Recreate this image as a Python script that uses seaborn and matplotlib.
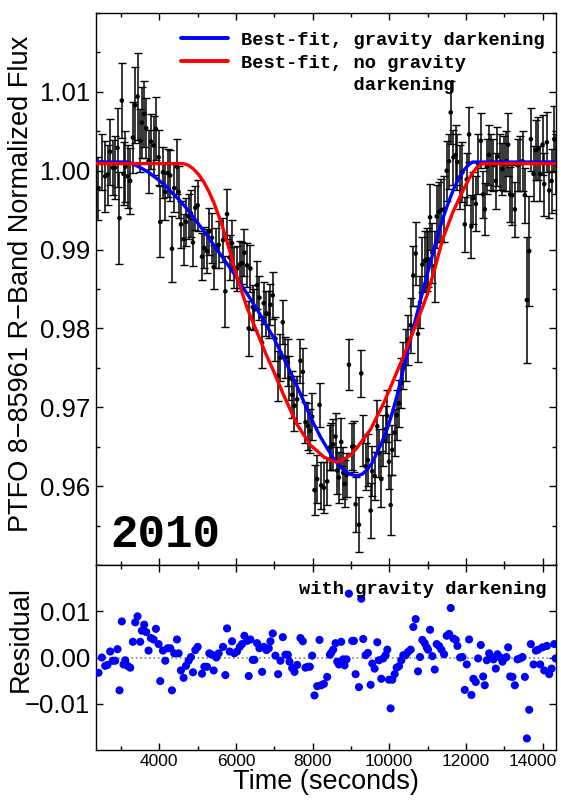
import numpy as np
import pandas as pd
import seaborn as sns
import matplotlib
matplotlib.use("Agg")
import matplotlib.pyplot as plt
from matplotlib.ticker import MultipleLocator, FixedLocator, FuncFormatter
from matplotlib.lines import Line2D
from matplotlib.transforms import ScaledTranslation

# ---------------- data ----------------
time_s = [2415, 2502, 2589, 2650, 2720, 2789, 2850, 2911, 2963, 3024,
          3068, 3112, 3173, 3242, 3312, 3373, 3434, 3504, 3547, 3608,
          3660, 3721, 3782, 3852, 3913, 3983, 4026, 4096, 4157, 4218,
          4287, 4331, 4392, 4462, 4505, 4566, 4636, 4697, 4766, 4827,
          4880, 4941, 5002, 5115, 5176, 5246, 5306, 5376, 5420, 5489,
          5550, 5664, 5725, 5768, 5838, 5899, 5960, 6029, 6099, 6160,
          6221, 6291, 6334, 6378, 6439, 6482, 6552, 6613, 6683, 6726,
          6796, 6857, 6900, 6961, 7031, 7101, 7162, 7223, 7292, 7353,
          7397, 7467, 7528, 7598, 7684, 7745, 7815, 7876, 7928, 7989,
          8050, 8120, 8181, 8224, 8294, 8381, 8451, 8486, 8538, 8599,
          8643, 8686, 8747, 8799, 8834, 8886, 8947, 9034, 9078, 9122,
          9209, 9270, 9322, 9383, 9444, 9514, 9557, 9618, 9688, 9731,
          9792, 9844, 9905, 9949, 9993, 10036, 10080, 10141, 10193, 10254,
          10315, 10367, 10428, 10489, 10559, 10628, 10689, 10750, 10803, 10864,
          10925, 10977, 11012, 11064, 11125, 11186, 11238, 11299, 11360, 11430,
          11499, 11560, 11604, 11674, 11735, 11778, 11848, 11909, 11970, 12022,
          12083, 12144, 12196, 12257, 12318, 12388, 12449, 12492, 12545, 12606,
          12667, 12719, 12780, 12823, 12893, 12954, 12998, 13058, 13102, 13154,
          13215, 13276, 13346, 13416, 13477, 13538, 13590, 13651, 13694, 13764,
          13825, 13886, 13938, 13999, 14043, 14112, 14173, 14234, 14304, 14340]

flux = [0.9978, 1.0011, 0.9993, 0.9995, 1.0024, 1.0004, 1.0004, 1.0029, 0.9940, 1.0089,
        0.9996, 1.0005, 0.9993, 0.9987, 1.0042, 1.0083, 1.0094, 1.0038, 1.0061, 1.0072,
        1.0054, 1.0012, 1.0037, 1.0032, 1.0053, 1.0017, 0.9935, 0.9998, 0.9973, 0.9997,
        0.9994, 0.9901, 0.9978, 1.0005, 0.9973, 0.9932, 0.9913, 0.9935, 0.9942, 0.9946,
        0.9909, 0.9953, 0.9956, 0.9891, 0.9902, 0.9898, 0.9923, 0.9915, 0.9878, 0.9902,
        0.9906, 0.9912, 0.9847, 0.9945, 0.9890, 0.9908, 0.9877, 0.9876, 0.9881, 0.9883,
        0.9896, 0.9880, 0.9800, 0.9876, 0.9827, 0.9824, 0.9855, 0.9839, 0.9782, 0.9832,
        0.9819, 0.9818, 0.9830, 0.9842, 0.9787, 0.9740, 0.9763, 0.9808, 0.9763, 0.9757,
        0.9737, 0.9716, 0.9702, 0.9710, 0.9759, 0.9745, 0.9681, 0.9676, 0.9670, 0.9688,
        0.9595, 0.9609, 0.9703, 0.9601, 0.9598, 0.9606, 0.9649, 0.9650, 0.9653, 0.9663,
        0.9620, 0.9611, 0.9656, 0.9617, 0.9603, 0.9614, 0.9754, 0.9650, 0.9650, 0.9577,
        0.9551, 0.9743, 0.9658, 0.9625, 0.9633, 0.9569, 0.9619, 0.9613, 0.9676, 0.9642,
        0.9609, 0.9658, 0.9672, 0.9689, 0.9631, 0.9576, 0.9646, 0.9668, 0.9690, 0.9705,
        0.9731, 0.9753, 0.9766, 0.9785, 0.9804, 0.9867, 0.9895, 0.9793, 0.9833, 0.9881,
        0.9886, 0.9887, 0.9888, 0.9941, 0.9896, 0.9879, 0.9942, 0.9948, 0.9950, 0.9951,
        1.0000, 1.0012, 1.0074, 1.0017, 1.0020, 1.0011, 0.9992, 0.9998, 0.9932, 0.9989,
        1.0046, 0.9929, 0.9965, 0.9958, 1.0009, 1.0038, 0.9970, 0.9951, 1.0005, 1.0020,
        1.0011, 1.0007, 0.9987, 1.0018, 1.0011, 1.0002, 1.0009, 1.0012, 1.0033, 0.9970,
        0.9969, 0.9951, 1.0007, 1.0009, 1.0012, 0.9969, 0.9836, 0.9898, 1.0040, 0.9996,
        1.0026, 1.0028, 0.9996, 1.0033, 0.9983, 1.0036, 0.9975, 0.9987, 1.0040, 1.0009]

flux_err = [0.0040, 0.0035, 0.0045, 0.0038, 0.0042, 0.0035, 0.0040, 0.0050, 0.0058, 0.0048,
            0.0040, 0.0045, 0.0040, 0.0042, 0.0045, 0.0048, 0.0055, 0.0040, 0.0045, 0.0042,
            0.0038, 0.0040, 0.0035, 0.0038, 0.0040, 0.0035, 0.0045, 0.0032, 0.0035, 0.0030,
            0.0032, 0.0042, 0.0030, 0.0035, 0.0033, 0.0030, 0.0032, 0.0030, 0.0028, 0.0030,
            0.0030, 0.0028, 0.0032, 0.0030, 0.0026, 0.0028, 0.0030, 0.0032, 0.0028, 0.0025,
            0.0030, 0.0028, 0.0045, 0.0032, 0.0028, 0.0030, 0.0026, 0.0028, 0.0030, 0.0027,
            0.0030, 0.0028, 0.0035, 0.0030, 0.0028, 0.0026, 0.0030, 0.0028, 0.0032, 0.0027,
            0.0028, 0.0030, 0.0026, 0.0030, 0.0028, 0.0032, 0.0030, 0.0028, 0.0026, 0.0030,
            0.0028, 0.0030, 0.0032, 0.0030, 0.0028, 0.0030, 0.0026, 0.0030, 0.0028, 0.0030,
            0.0032, 0.0030, 0.0028, 0.0030, 0.0032, 0.0030, 0.0028, 0.0030, 0.0032, 0.0030,
            0.0030, 0.0032, 0.0030, 0.0033, 0.0030, 0.0028, 0.0032, 0.0030, 0.0032, 0.0035,
            0.0035, 0.0030, 0.0032, 0.0030, 0.0033, 0.0035, 0.0032, 0.0030, 0.0033, 0.0030,
            0.0035, 0.0032, 0.0030, 0.0033, 0.0035, 0.0038, 0.0032, 0.0030, 0.0032, 0.0030,
            0.0032, 0.0030, 0.0033, 0.0032, 0.0035, 0.0038, 0.0040, 0.0035, 0.0033, 0.0035,
            0.0038, 0.0040, 0.0035, 0.0042, 0.0038, 0.0045, 0.0040, 0.0038, 0.0040, 0.0042,
            0.0038, 0.0035, 0.0040, 0.0035, 0.0038, 0.0035, 0.0040, 0.0038, 0.0035, 0.0033,
            0.0035, 0.0040, 0.0033, 0.0035, 0.0038, 0.0035, 0.0030, 0.0033, 0.0035, 0.0038,
            0.0035, 0.0033, 0.0035, 0.0038, 0.0035, 0.0033, 0.0035, 0.0038, 0.0040, 0.0035,
            0.0038, 0.0035, 0.0033, 0.0035, 0.0038, 0.0035, 0.0080, 0.0070, 0.0040, 0.0035,
            0.0038, 0.0040, 0.0035, 0.0038, 0.0040, 0.0038, 0.0035, 0.0040, 0.0042, 0.0038]

residual = [-0.0033, 0.0000, -0.0018, -0.0016, 0.0013, -0.0007, -0.0007, 0.0018, -0.0071, 0.0078,
            -0.0015, -0.0006, -0.0018, -0.0022, 0.0034, 0.0076, 0.0089, 0.0034, 0.0058, 0.0071,
            0.0055, 0.0015, 0.0042, 0.0039, 0.0062, 0.0029, -0.0051, 0.0015, -0.0007, 0.0020,
            0.0020, -0.0071, 0.0009, 0.0039, 0.0009, -0.0028, -0.0044, -0.0018, -0.0007, 0.0001,
            -0.0032, 0.0016, 0.0023, -0.0035, -0.0020, -0.0020, 0.0009, 0.0006, -0.0028, 0.0000,
            0.0009, 0.0023, -0.0038, 0.0063, 0.0013, 0.0035, 0.0009, 0.0013, 0.0023, 0.0029,
            0.0047, 0.0036, -0.0040, 0.0039, -0.0005, -0.0005, 0.0031, 0.0020, -0.0031, 0.0023,
            0.0016, 0.0020, 0.0035, 0.0052, 0.0004, -0.0036, -0.0007, 0.0044, 0.0006, 0.0006,
            -0.0009, -0.0023, -0.0031, -0.0016, 0.0042, 0.0035, -0.0022, -0.0020, -0.0020, 0.0004,
            -0.0082, -0.0062, 0.0038, -0.0060, -0.0057, -0.0042, 0.0006, 0.0010, 0.0017, 0.0031,
            -0.0009, -0.0015, 0.0034, -0.0004, -0.0017, -0.0004, 0.0138, 0.0036, 0.0036, -0.0036,
            -0.0064, 0.0127, 0.0040, 0.0005, 0.0010, -0.0059, -0.0013, -0.0024, 0.0033, -0.0006,
            -0.0046, -0.0002, 0.0005, 0.0017, -0.0048, -0.0110, -0.0048, -0.0036, -0.0022, -0.0019,
            -0.0006, 0.0005, 0.0005, 0.0012, 0.0017, 0.0066, 0.0083, -0.0030, 0.0001, 0.0038,
            0.0031, 0.0022, 0.0017, 0.0060, 0.0003, -0.0026, 0.0029, 0.0025, 0.0017, 0.0007,
            0.0047, 0.0051, 0.0107, 0.0041, 0.0038, 0.0025, 0.0000, 0.0001, -0.0070, -0.0015,
            0.0039, -0.0081, -0.0046, -0.0053, -0.0002, 0.0027, -0.0041, -0.0060, -0.0006, 0.0009,
            0.0000, -0.0004, -0.0024, 0.0007, 0.0000, -0.0009, -0.0002, 0.0001, 0.0022, -0.0041,
            -0.0042, -0.0060, -0.0004, -0.0002, 0.0001, -0.0042, -0.0175, -0.0113, 0.0029, -0.0015,
            0.0015, 0.0017, -0.0015, 0.0022, -0.0028, 0.0025, -0.0036, -0.0024, 0.0029, -0.0002]

gd_time = [2350, 3150, 3300, 3504, 3720, 3939, 4160, 4375, 4600, 4810,
           5030, 5246, 5460, 5681, 5900, 6117, 6330, 6552, 6770, 6987,
           7249, 7470, 7684, 7860, 8032, 8210, 8381, 8560, 8729, 8870,
           8991, 9150, 9290, 9426, 9560, 9687, 9820, 9949, 10080, 10210,
           10400, 10646, 10907, 11168, 11300, 11430, 11560, 11691, 11820, 11952,
           12060, 12170, 14350]
gd_flux = [1.0011, 1.0011, 1.0009, 1.0004, 0.9998, 0.9990, 0.9981, 0.9970, 0.9959, 0.9946,
           0.9932, 0.9918, 0.9903, 0.9888, 0.9873, 0.9857, 0.9841, 0.9824, 0.9806, 0.9788,
           0.9762, 0.9740, 0.9717, 0.9697, 0.9679, 0.9662, 0.9648, 0.9634, 0.9624, 0.9618,
           0.9615, 0.9613, 0.9615, 0.9621, 0.9630, 0.9643, 0.9657, 0.9673, 0.9693, 0.9716,
           0.9755, 0.9804, 0.9853, 0.9901, 0.9924, 0.9944, 0.9962, 0.9978, 0.9991, 1.0001,
           1.0007, 1.0011, 1.0011]

nogd_time = [2350, 4630, 4760, 4897, 5030, 5158, 5290, 5420, 5637, 5812,
             6029, 6291, 6552, 6770, 6990, 7249, 7597, 7945, 8294, 8500,
             8650, 8816, 9000, 9165, 9513, 9862, 10123, 10384, 10600, 10800,
             10994, 11212, 11386, 11647, 11865, 12083, 12200, 12301, 12400, 12475,
             14350]
nogd_flux = [1.0009, 1.0009, 1.0007, 1.0002, 0.9995, 0.9986, 0.9974, 0.9960, 0.9931, 0.9903,
             0.9865, 0.9826, 0.9795, 0.9769, 0.9745, 0.9715, 0.9678, 0.9652, 0.9637, 0.9632,
             0.9631, 0.9634, 0.9640, 0.9649, 0.9672, 0.9706, 0.9736, 0.9766, 0.9793, 0.9818,
             0.9843, 0.9880, 0.9912, 0.9946, 0.9969, 0.9990, 0.9999, 1.0005, 1.0008, 1.0009,
             1.0009]

flux_ticks = [0.96, 0.97, 0.98, 0.99, 1.00, 1.01]
resid_ticks = [-0.01, 0.00, 0.01]
time_ticks = [4000, 6000, 8000, 10000, 12000, 14000]

legend_labels = ["Best-fit, gravity darkening", "Best-fit, no gravity", " " * 10 + "darkening"]
year_label = "2010"
resid_note = "with gravity darkening"
flux_ylabel = "PTFO 8\u221285961 R\u2212Band Normalized Flux"
resid_ylabel = "Residual"
x_label = "Time (seconds)"

# ---------------- styling ----------------
sns.set_style("ticks")
plt.rcParams["font.family"] = ["Liberation Sans", "DejaVu Sans"]
plt.rcParams["axes.linewidth"] = 1.0
for key in ("text.color", "axes.labelcolor", "xtick.color", "ytick.color", "axes.edgecolor"):
    plt.rcParams[key] = "black"

df = pd.DataFrame({"t": time_s, "f": flux, "e": flux_err, "r": residual})
gd = pd.DataFrame({"t": gd_time, "f": gd_flux})
nogd = pd.DataFrame({"t": nogd_time, "f": nogd_flux})

fig = plt.figure(figsize=(5.61, 8.0), dpi=100)
ax1 = fig.add_axes([96 / 561, 235 / 800, 460 / 561, 552 / 800])
ax2 = fig.add_axes([96 / 561, 50 / 800, 460 / 561, 185 / 800])

xlim = (2350, 14350)

# ---- top panel ----
ax1.errorbar(df["t"], df["f"], yerr=df["e"], fmt="none", ecolor="black",
             elinewidth=1.1, capsize=2.8, capthick=1.0, zorder=2)
sns.scatterplot(data=df, x="t", y="f", ax=ax1, color="black", s=11,
                edgecolor="none", zorder=3, legend=False)
sns.lineplot(data=gd, x="t", y="f", ax=ax1, color="#0000ff", lw=2.4,
             sort=False, estimator=None, zorder=4)
sns.lineplot(data=nogd, x="t", y="f", ax=ax1, color="#ff0000", lw=2.4,
             sort=False, estimator=None, zorder=5)
ax1.set_xlim(*xlim)
ax1.set_ylim(0.950, 1.020)
ax1.xaxis.set_major_locator(FixedLocator(time_ticks))
ax1.xaxis.set_minor_locator(MultipleLocator(1000))
ax1.yaxis.set_major_locator(FixedLocator(flux_ticks))
ax1.yaxis.set_minor_locator(MultipleLocator(0.005))
ax1.yaxis.set_major_formatter(FuncFormatter(lambda v, p: f"{v:.2f}"))
ax1.tick_params(axis="x", labelbottom=False)
ax1.set_xlabel("")
ax1.set_ylabel(flux_ylabel, fontsize=19.5)
ax1.yaxis.set_label_coords(-0.135, 0.51)

handles = [Line2D([], [], color="#0000ff", lw=2.8),
           Line2D([], [], color="#ff0000", lw=2.8),
           Line2D([], [], color="none")]
ax1.legend(handles, legend_labels, loc="upper left", bbox_to_anchor=(0.184, 0.966),
           frameon=False, borderpad=0, borderaxespad=0, handlelength=2.5,
           handletextpad=0.7, labelspacing=0.3,
           prop={"family": "Liberation Mono", "weight": "bold", "size": 13.5})
ax1.text(0.03, 0.033, year_label, transform=ax1.transAxes, ha="left", va="baseline",
         fontsize=33, fontweight="bold", family="Liberation Mono", color="black")

# ---- bottom panel ----
ax2.axhline(0, color="gray", ls=":", lw=1.2, zorder=1)
sns.scatterplot(data=df, x="t", y="r", ax=ax2, color="#0000ff", s=34,
                edgecolor="none", zorder=3, legend=False)
ax2.set_xlim(*xlim)
ax2.set_ylim(-0.020, 0.020)
ax2.xaxis.set_major_locator(FixedLocator(time_ticks))
ax2.xaxis.set_minor_locator(MultipleLocator(1000))
ax2.yaxis.set_major_locator(FixedLocator(resid_ticks))
ax2.yaxis.set_major_formatter(FuncFormatter(
    lambda v, p: ("\u2212" if v < -1e-9 else "") + f"{abs(v):.2f}"))
ax2.set_xlabel(x_label, fontsize=19.5, labelpad=0)
ax2.set_ylabel(resid_ylabel, fontsize=19.5)
ax2.yaxis.set_label_coords(-0.135, 0.60)
ax2.text(0.98, 0.865, resid_note, transform=ax2.transAxes, ha="right", va="center",
         fontsize=13.5, fontweight="bold", family="Liberation Mono", color="black")

for ax in (ax1, ax2):
    ax.tick_params(which="both", direction="in", top=True, right=True, width=1.0,
                   color="black", labelcolor="black")
    ax.tick_params(which="major", length=5)
    ax.tick_params(which="minor", length=3)
    ax.tick_params(axis="y", which="major", labelsize=18.5, pad=4)
    ax.tick_params(axis="x", which="major", labelsize=12.5, pad=3)
    for s in ax.spines.values():
        s.set_color("black")

fig.canvas.draw()
for tick in ax2.xaxis.get_major_ticks():
    if abs(tick.get_loc() - 14000) < 1:
        lab = tick.label1
        lab.set_transform(lab.get_transform() + ScaledTranslation(-0.10, 0, fig.dpi_scale_trans))

fig.savefig("out.png", dpi=100)
